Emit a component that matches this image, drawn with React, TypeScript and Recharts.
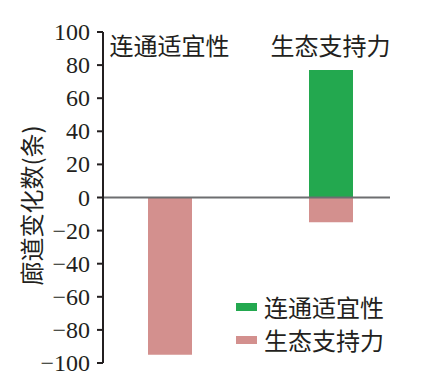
import React from "react";
import {
  BarChart,
  Bar,
  XAxis,
  YAxis,
  Legend,
  ReferenceLine,
} from "recharts";

const categories = ["连通适宜性", "生态支持力"];
const connectivity = [0, 77];
const ecoSupport = [-95, -15];
const yTicks = [-100, -80, -60, -40, -20, 0, 20, 40, 60, 80, 100];

const seriesNames = { connectivity: "连通适宜性", ecoSupport: "生态支持力" };
const GREEN = "#23a84f";
const PINK = "#d3908e";
const INK = "#231f20";
const CJK = "Noto Sans CJK SC";
const SERIF = "Liberation Serif";

const data = categories.map((name, i) => ({
  name,
  connectivity: connectivity[i],
  ecoSupport: ecoSupport[i],
}));

const formatTick = (v: number) => (v < 0 ? `\u2212${Math.abs(v)}` : `${v}`);

// category names sit just inside the top edge of the plot
const CategoryTick = (props: any) => {
  const { x, y, payload } = props;
  return (
    <text
      x={x}
      y={y + 12}
      textAnchor="middle"
      dominantBaseline="central"
      fontFamily={CJK}
      fontSize={24}
      fill={INK}
    >
      {payload.value}
    </text>
  );
};

const ValueTick = (props: any) => {
  const { x, y, payload } = props;
  return (
    <text
      x={x}
      y={y}
      textAnchor="end"
      dominantBaseline="central"
      fontFamily={SERIF}
      fontSize={24}
      fill={INK}
    >
      {formatTick(payload.value)}
    </text>
  );
};

const YTitle = (props: any) => {
  const vb = props.viewBox || { x: 0, y: 0, width: 0, height: 0 };
  const cx = vb.x + 30;
  const cy = vb.y + vb.height / 2 + 8;
  return (
    <text
      x={cx}
      y={cy}
      transform={`rotate(-90, ${cx}, ${cy})`}
      textAnchor="middle"
      dominantBaseline="central"
      fontFamily={CJK}
      fontSize={24}
      fill={INK}
    >
      廊道变化数(条)
    </text>
  );
};

const LegendBox = () => {
  const items = [
    { label: seriesNames.connectivity, color: GREEN },
    { label: seriesNames.ecoSupport, color: PINK },
  ];
  return (
    <div style={{ fontFamily: CJK, fontSize: 24, color: INK }}>
      {items.map((it) => (
        <div
          key={it.label}
          style={{ display: "flex", alignItems: "center", height: 33 }}
        >
          <span
            style={{
              display: "inline-block",
              width: 21,
              height: 8,
              background: it.color,
              marginRight: 7,
            }}
          />
          <span style={{ lineHeight: "33px" }}>{it.label}</span>
        </div>
      ))}
    </div>
  );
};

export default function App() {
  return (
    <div style={{ position: "absolute", left: 0, top: 0, background: "#fff" }}>
      <BarChart
        width={428}
        height={391}
        data={data}
        stackOffset="sign"
        margin={{ top: 31, right: 38, bottom: 28, left: 0 }}
      >
        <XAxis
          dataKey="name"
          orientation="top"
          height={1}
          axisLine={false}
          tickLine={false}
          tickSize={0}
          tickMargin={0}
          padding={{ left: -14, right: -21 }}
          tick={<CategoryTick />}
          interval={0}
        />
        <YAxis
          width={103}
          domain={[-100, 100]}
          ticks={yTicks}
          interval={0}
          axisLine={{ stroke: INK, strokeWidth: 2 }}
          tickLine={{ stroke: INK, strokeWidth: 2 }}
          tickSize={6}
          tickMargin={7}
          tick={<ValueTick />}
          label={<YTitle />}
        />
        <Legend
          layout="horizontal"
          verticalAlign="middle"
          align="center"
          content={<LegendBox />}
          wrapperStyle={{ left: 236, top: 290, width: 180 }}
        />
        <Bar
          dataKey="connectivity"
          name={seriesNames.connectivity}
          stackId="a"
          fill={GREEN}
          barSize={44}
          isAnimationActive={false}
        />
        <Bar
          dataKey="ecoSupport"
          name={seriesNames.ecoSupport}
          stackId="a"
          fill={PINK}
          barSize={44}
          isAnimationActive={false}
        />
        <ReferenceLine y={0} stroke="#6d6e70" strokeWidth={2} />
      </BarChart>
    </div>
  );
}
